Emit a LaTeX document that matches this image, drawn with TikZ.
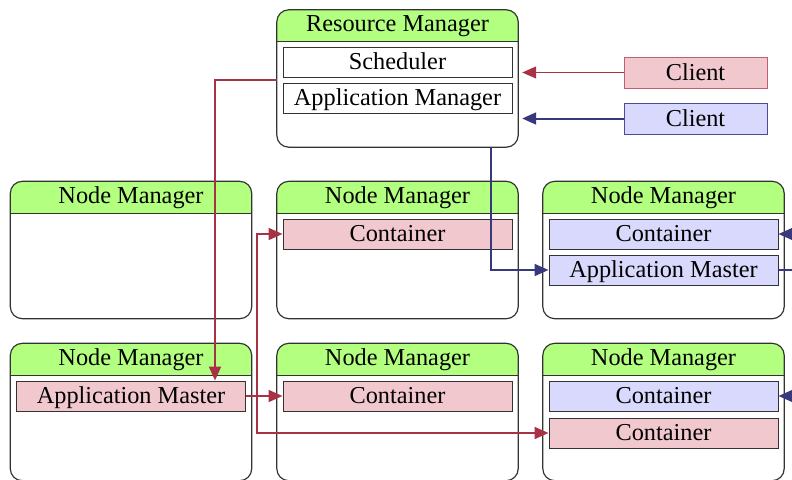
\documentclass[tikz,border=0pt]{standalone}
\usepackage{fontspec}
\setmainfont{Liberation Serif}
\usetikzlibrary{arrows.meta}
\definecolor{hdrgreen}{HTML}{B3FF80}
\definecolor{pinkfill}{HTML}{F2C8CF}
\definecolor{pinkline}{HTML}{C0606E}
\definecolor{bluefill}{HTML}{D8D9FC}
\definecolor{blueline}{HTML}{4B4B9B}
\definecolor{redarr}{HTML}{A83245}
\definecolor{bluearr}{HTML}{38387E}
\definecolor{boxline}{HTML}{333333}
\tikzset{
  outerbox/.style={minimum width=241pt, minimum height=137pt, inner sep=0pt},
  hdrtext/.style={inner sep=0pt, anchor=base, font=\fontsize{24.3}{28}\selectfont},
  innerbox/.style={draw=boxline, line width=1pt, minimum width=229pt, minimum height=30pt, inner sep=0pt, text height=17pt, text depth=2pt, font=\fontsize{24.3}{28}\selectfont},
  pinkbox/.style={innerbox, fill=pinkfill},
  bluebox/.style={innerbox, fill=bluefill},
  whitebox/.style={innerbox, fill=white},
  clientred/.style={innerbox, fill=pinkfill, draw=pinkline, minimum width=143pt, minimum height=31pt},
  clientblue/.style={innerbox, fill=bluefill, draw=blueline, minimum width=143pt, minimum height=31pt},
  redline/.style={draw=redarr, line width=2pt, -{Triangle[length=14pt,width=12pt]}},
  blueln/.style={draw=bluearr, line width=2pt, -{Triangle[length=14pt,width=12pt]}},
  blueplain/.style={draw=bluearr, line width=2pt},
}
\newcommand{\mgrbox}[3]{%
  \node[outerbox] (#1) at (#2) {};
  \begin{scope}
    \clip[rounded corners=12pt] (#1.north west) rectangle (#1.south east);
    \fill[hdrgreen] (#1.north west) rectangle ([yshift=-32pt]#1.north east);
  \end{scope}
  \draw[boxline, line width=1.2pt, rounded corners=12pt] (#1.north west) rectangle (#1.south east);
  \draw[boxline, line width=1.2pt] ([yshift=-32pt]#1.north west) -- ([yshift=-32pt]#1.north east);
  \node[hdrtext] (#1-t) at ([yshift=-22pt]#1.north) {#3};
}
\begin{document}
\begin{tikzpicture}[x=1pt,y=-1pt]
\useasboundingbox (0,0) rectangle (792,479);
\begin{scope}
\clip (0,0) rectangle (792,479);
% managers
\mgrbox{rm}{397.5,78.5}{Resource Manager}
\mgrbox{nma}{131,250}{Node Manager}
\mgrbox{nmb}{397.5,250}{Node Manager}
\mgrbox{nmc}{663.5,250}{Node Manager}
\mgrbox{nmd}{131,412}{Node Manager}
\mgrbox{nme}{397.5,412}{Node Manager}
\mgrbox{nmf}{663.5,412}{Node Manager}
% inner boxes
\node[whitebox] (sch) at (397.5,62) {Scheduler};
\node[whitebox] (apm) at (397.5,98) {Application Manager};
\node[pinkbox] (cb1) at (397.5,234) {Container};
\node[bluebox] (cc1) at (663.5,234) {Container};
\node[bluebox] (amc) at (663.5,270) {Application Master};
\node[pinkbox] (amd) at (131,396) {Application Master};
\node[pinkbox] (ce1) at (397.5,396) {Container};
\node[bluebox] (cf1) at (663.5,396) {Container};
\node[pinkbox] (cf2) at (663.5,433) {Container};
% clients
\node[clientred] (clr) at (695.5,72.5) {Client};
\node[clientblue] (clb) at (695.5,118.5) {Client};
% client arrows
\draw[redarr, line width=1.2pt, -{Triangle[length=14pt,width=12pt]}, shorten >=4pt] (clr.west) -- (clr.west -| rm.east);
\draw[blueln, shorten >=4pt] (clb.west) -- (clb.west -| rm.east);
% red job
\draw[redline] ([yshift=-1.5pt]rm.west) -| ([xshift=84pt]amd.north);
\coordinate (rj) at (257,396);
\draw[redline] (amd.east) -- (ce1.west);
\draw[redline] (rj) |- (cb1.west);
\draw[redline] (rj) |- (cf2.west);
% blue job
\draw[blueln] ([xshift=93.5pt]rm.south) |- (amc.west);
\coordinate (bj) at (805,270);
\draw[blueplain] (amc.east) -- (bj);
\draw[blueln] (bj) |- (cc1.east);
\draw[blueln] (bj) |- (cf1.east);
\end{scope}
\end{tikzpicture}
\end{document}
